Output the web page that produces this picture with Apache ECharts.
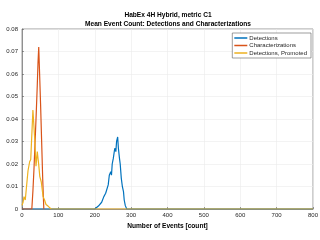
<!DOCTYPE html>
<html><head><meta charset="utf-8">
<script src="https://cdn.jsdelivr.net/npm/echarts@6/dist/echarts.min.js"></script>
<style>html,body{margin:0;padding:0;background:#fff}#c{width:320px;height:240px}</style>
</head><body><div id="c"></div>
<script>
const titleLines = ['HabEx 4H Hybrid, metric C1', 'Mean Event Count: Detections and Characterizations'];
const seriesNames = ['Detections', 'Characterizations', 'Detections, Promoted'];
const xTicks = [0, 100, 200, 300, 400, 500, 600, 700, 800];
const yTicks = [0, 0.01, 0.02, 0.03, 0.04, 0.05, 0.06, 0.07, 0.08];

const detX = [0, 200, 210, 219, 225, 230, 235, 237, 240, 244, 246, 248, 251, 255, 258, 260, 263, 265, 268, 270, 273, 276, 279, 281, 284, 288, 295, 800];
const detY = [0, 0, 0.0013, 0.003, 0.0055, 0.007, 0.0077, 0.0107, 0.015, 0.0166, 0.015, 0.020, 0.0225, 0.027, 0.0255, 0.030, 0.032, 0.027, 0.0225, 0.020, 0.0136, 0.0099, 0.0077, 0.004, 0.0015, 0, 0, 0];

const charX = [0, 27, 30, 33, 36, 39, 42, 44, 46, 48, 51, 54, 57, 60];
const charY = [0, 0, 0.008, 0.018, 0.030, 0.042, 0.055, 0.065, 0.072, 0.062, 0.047, 0.030, 0.013, 0];

const promX = [0, 3, 5.5, 9, 16.5, 21, 24, 30, 35, 38.5, 42, 46, 49, 53, 58, 62, 66, 71.5, 80, 800];
const promY = [0.0016, 0.003, 0.0055, 0.004, 0.017, 0.021, 0.022, 0.044, 0.031, 0.019, 0.0255, 0.0196, 0.0144, 0.012, 0.0055, 0.004, 0.002, 0.0013, 0, 0];

const colors = ['#0072BD', '#D95319', '#EDB120'];
const zip = (xs, ys) => xs.map((x, i) => [x, ys[i]]);
const seriesData = [zip(detX, detY), zip(charX, charY), zip(promX, promY)];
const FONT = 'Liberation Sans';

const chart = echarts.init(document.getElementById('c'), null, {renderer: 'canvas'});
chart.setOption({
  animation: false,
  color: colors,
  textStyle: {fontFamily: FONT},
  grid: {left: 22, right: 7, top: 29, bottom: 31, outerBoundsMode: 'none', containLabel: false,
         show: true, borderColor: '#5a5a5a', borderWidth: 0.6, backgroundColor: '#fff'},
  graphic: titleLines.map((t, i) => ({
    type: 'text', x: 168, y: 15 + i * 9,
    style: {text: t, font: 'bold 6.6px ' + FONT, fill: '#000', align: 'center', verticalAlign: 'middle'}
  })),
  legend: {
    data: seriesNames, orient: 'vertical', right: 9, top: 33,
    itemWidth: 13, itemHeight: 1.5, icon: 'rect', itemGap: 1.5,
    padding: [2, 4, 2, 2], borderColor: '#5a5a5a', borderWidth: 0.6, backgroundColor: '#fff',
    textStyle: {fontSize: 6, color: '#262626', fontFamily: FONT, padding: [0, 0, 0, -3]}
  },
  xAxis: {
    type: 'value', min: 0, max: 800, interval: 100,
    name: 'Number of Events [count]', nameLocation: 'middle', nameGap: 10,
    nameTextStyle: {fontSize: 6.6, fontWeight: 'bold', color: '#000', fontFamily: FONT},
    axisLine: {show: true, lineStyle: {color: '#5a5a5a', width: 0.6}},
    axisTick: {show: true, inside: true, length: 2, lineStyle: {color: '#5a5a5a', width: 0.6}},
    axisLabel: {fontSize: 6, color: '#262626', margin: 3, formatter: v => String(v)},
    splitLine: {show: true, lineStyle: {color: '#ebebeb', width: 0.6}}
  },
  yAxis: {
    type: 'value', min: 0, max: 0.08, interval: 0.01,
    name: 'Frequency [density]', nameLocation: 'middle', nameGap: 14,
    nameTextStyle: {fontSize: 6.6, fontWeight: 'bold', color: '#000', fontFamily: FONT},
    axisLine: {show: true, lineStyle: {color: '#5a5a5a', width: 0.6}},
    axisTick: {show: true, inside: true, length: 2, lineStyle: {color: '#5a5a5a', width: 0.6}},
    axisLabel: {fontSize: 6, color: '#262626', margin: 4, formatter: v => String(+v.toFixed(2))},
    splitLine: {show: true, lineStyle: {color: '#ebebeb', width: 0.6}}
  },
  series: seriesNames.map((n, i) => ({
    name: n, type: 'line', data: seriesData[i], showSymbol: false, symbol: 'none',
    lineStyle: {width: 1.2, color: colors[i]}, z: 2 + i
  }))
});
</script></body></html>
